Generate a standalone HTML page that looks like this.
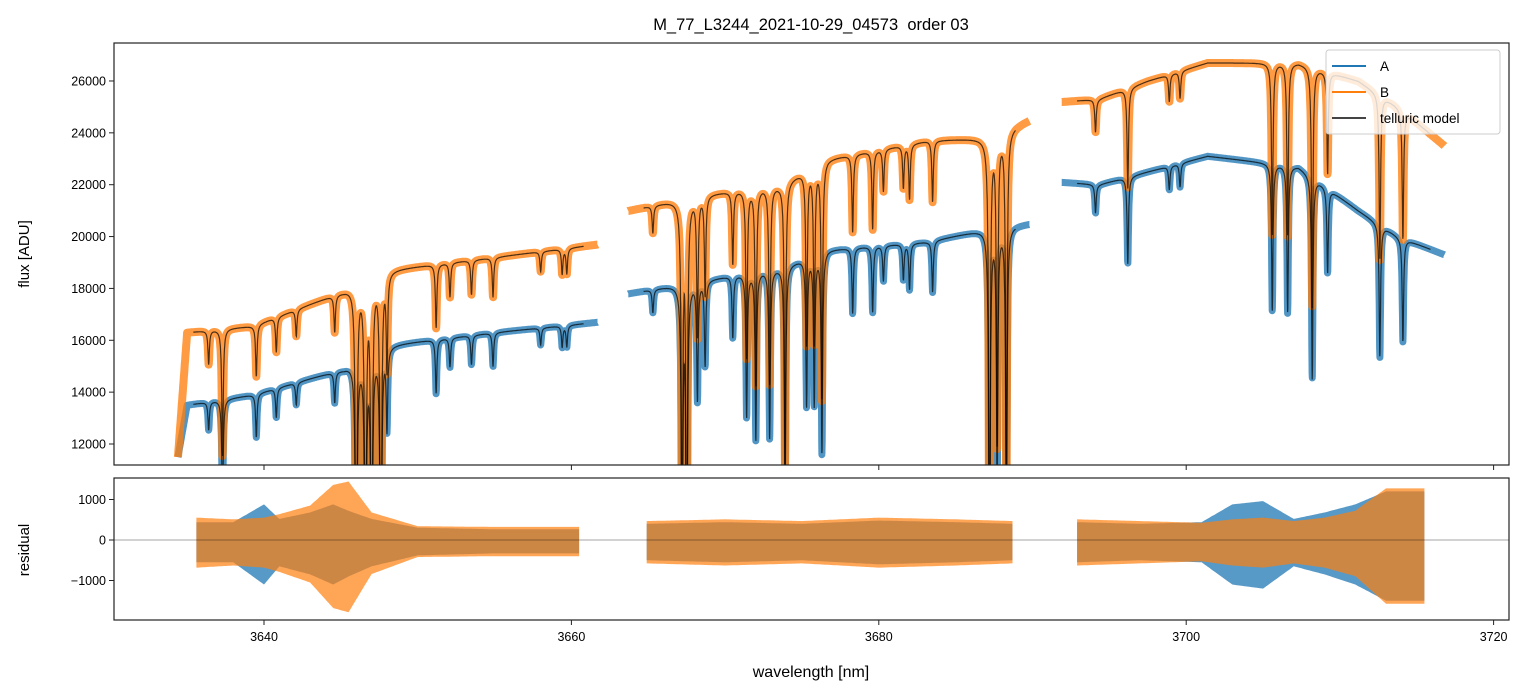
<!DOCTYPE html>
<html><head><meta charset="utf-8">
<style>
body{margin:0;background:#fff;}
svg{display:block;font-family:"Liberation Sans","DejaVu Sans",sans-serif;}
</style></head>
<body>
<svg id="c" width="1531" height="696" viewBox="0 0 1531 696">
<defs>
<clipPath id="clipTop"><rect x="114" y="43" width="1395" height="422"/></clipPath>
<clipPath id="clipBot"><rect x="114" y="478" width="1395" height="142"/></clipPath>
</defs>
<text x="811" y="30" font-size="16.5" text-anchor="middle" style="white-space:pre">M_77_L3244_2021-10-29_04573  order 03</text>
<g id="gtop" clip-path="url(#clipTop)"></g>
<g id="gbot" clip-path="url(#clipBot)"></g>
<g id="gaxes"></g>
<text x="29" y="254" font-size="15" text-anchor="middle" transform="rotate(-90 29 254)">flux [ADU]</text>
<text x="29" y="550" font-size="15" text-anchor="middle" transform="rotate(-90 29 550)">residual</text>
<text x="811" y="677" font-size="16" text-anchor="middle">wavelength [nm]</text>
<g id="legend">
<rect x="1326" y="50" width="174" height="84" rx="3" fill="#fff" fill-opacity="0.8" stroke="#ccc"/>
<line x1="1332" y1="66" x2="1366" y2="66" stroke="#1f77b4" stroke-width="2"/>
<text x="1380" y="71" font-size="13.5">A</text>
<line x1="1332" y1="92" x2="1366" y2="92" stroke="#ff7f0e" stroke-width="2"/>
<text x="1380" y="97" font-size="13.5">B</text>
<line x1="1332" y1="118" x2="1366" y2="118" stroke="#444" stroke-width="2"/>
<text x="1380" y="123" font-size="13.5">telluric model</text>
</g>
</svg>
<script>
// ---- data ----
const segments = [[3634.4,3661.7],[3663.7,3689.8],[3691.9,3716.8]];
const contWave = [3634.4,3635.0,3639.3,3645.2,3647.8,3655.0,3661.7, 3663.7,3668.3,3673.5,3676.7,3683.2,3687.1,3689.8, 3691.9,3694.3,3697.5,3701.4,3707.3,3711.2,3713.8,3716.8];
const contB   = [11500,16300,16550,17900,18700,19200,19700, 21000,21600,22000,23000,23700,23800,24500, 25200,25300,26000,26700,26700,26000,25000,23500];
const contA   = [11500,13500,13900,14900,15800,16300,16700, 17800,18300,18800,19500,19800,20300,20500, 22100,22000,22500,23100,22700,21000,20000,19300];
const lineWave = [3636.4,3637.3,3639.5,3640.8,3642.1,3644.6,3646.0,3646.6,3647.0,3647.6,3648.0,3651.2,3652.1,3653.5,3654.9,3658.0,3659.4,3659.7,
 3665.3,3667.2,3667.5,3668.2,3668.7,3670.5,3671.4,3672.0,3672.9,3673.9,3675.3,3675.8,3676.3,3678.3,3679.6,3680.3,3681.6,3682.0,3683.5,3687.2,3687.7,3688.3,
 3694.1,3696.2,3698.9,3699.6,3705.6,3706.6,3708.2,3709.2,3712.6,3714.1];
const lineDepth = [0.08,0.3,0.12,0.08,0.06,0.08,0.9,0.9,0.9,0.9,0.2,0.13,0.07,0.07,0.08,0.04,0.05,0.05,
 0.05,0.7,0.8,0.25,0.18,0.13,0.3,0.35,0.35,0.5,0.3,0.3,0.4,0.13,0.13,0.07,0.07,0.09,0.1,0.8,0.5,0.6,
 0.05,0.15,0.04,0.04,0.25,0.25,0.35,0.15,0.25,0.2];
const resSeg = [[3635.6,3660.5],[3664.9,3688.7],[3692.9,3715.5]];
const resWave = [3635.6,3638,3640,3641,3643,3644.5,3645.5,3647,3650,3655,3660.5, 3664.9,3670,3675,3680,3685,3688.7, 3692.9,3697,3701,3703,3705,3707,3709,3711,3713,3715.5];
const resAmpB = [650,600,650,750,1000,1600,1700,800,400,380,380, 550,600,550,650,600,550, 600,550,500,600,650,550,650,850,1500,1500];
const resAmpA = [550,550,1100,650,850,1100,900,650,380,330,330, 500,550,500,600,550,500, 550,500,550,1100,1200,650,850,1100,1500,1500];
const xTicks = [3640,3660,3680,3700,3720];
const yTicks = [12000,14000,16000,18000,20000,22000,24000,26000];
const rTicks = [-1000,0,1000];

// ---- axes ----
const X = w => 264 + (w-3640)*15.37;
const Y = f => 444 - (f-12000)*0.02593;
const R = r => 540 - r*0.0405;
const NS="http://www.w3.org/2000/svg";
function mk(tag,attrs,parent){const e=document.createElementNS(NS,tag);for(const k in attrs)e.setAttribute(k,attrs[k]);parent.appendChild(e);return e;}
function interp(xs,ys,x){if(x<=xs[0])return ys[0];for(let i=1;i<xs.length;i++){if(x<=xs[i]){const t=(x-xs[i-1])/(xs[i]-xs[i-1]);return ys[i-1]+t*(ys[i]-ys[i-1]);}}return ys[ys.length-1];}
function trans(w){let t=1;for(let i=0;i<lineWave.length;i++){const d=(w-lineWave[i])/0.055;t*=1-lineDepth[i]/(1+d*d);}return Math.max(t,0.02);}

const gTop=document.getElementById('gtop'), gBot=document.getElementById('gbot'), gAxes=document.getElementById('gaxes');
function seriesPath(cw,cv,seg){let p='';for(let w=seg[0];w<=seg[1];w+=0.015){const v=interp(cw,cv,w)*trans(w);p+=(p?'L':'M')+X(w).toFixed(1)+','+Y(v).toFixed(1);}return p;}
[['A',contA,'#1f77b4',7],['B',contB,'#ff7f0e',8]].forEach(([n,cv,col,sw])=>{
  segments.forEach((seg,i)=>{
    const p=mk('path',{d:seriesPath(contWave,cv,seg),fill:'none',stroke:col,'stroke-width':sw,'stroke-opacity':0.78,'stroke-linejoin':'round'},gTop);
    
    
  });
});
[contA,contB].forEach((cv,j)=>{
  segments.forEach((seg,i)=>{
    const p=mk('path',{d:seriesPath(contWave,cv,[seg[0]+1.0,seg[1]-0.9]),fill:'none',stroke:'#000','stroke-width':1.2,'stroke-opacity':0.7},gTop);
    
    
  });
});
[[resAmpA,'#1f77b4'],[resAmpB,'#ff7f0e']].forEach(([amp,col],j)=>{
  resSeg.forEach((seg,i)=>{
    let up='',dn=[];
    for(let w=seg[0];w<=seg[1];w+=0.1){const a=interp(resWave,amp,w);up+=(up?'L':'M')+X(w).toFixed(1)+','+R(a*(j?0.85:0.8)).toFixed(1);dn.push(X(w).toFixed(1)+','+R(-a*(j?1.05:1)).toFixed(1));}
    const p=mk('path',{d:up+'L'+dn.reverse().join('L')+'Z',fill:col,'fill-opacity':j?0.7:0.75},gBot);
    
    
  });
});
mk('line',{x1:114,x2:1509,y1:R(0),y2:R(0),stroke:'#000','stroke-width':0.6,'stroke-opacity':0.7},gBot);

const f1=mk('rect',{x:114,y:43,width:1395,height:422,fill:'none',stroke:'#222','stroke-width':1.2},gAxes);


const f2=mk('rect',{x:114,y:478,width:1395,height:142,fill:'none',stroke:'#222','stroke-width':1.2},gAxes);


xTicks.forEach(t=>{
  mk('line',{x1:X(t),x2:X(t),y1:465,y2:470,stroke:'#222'},gAxes);
  mk('line',{x1:X(t),x2:X(t),y1:620,y2:625,stroke:'#222'},gAxes);
  const tx=mk('text',{x:X(t),y:641,'font-size':12.5,'text-anchor':'middle'},gAxes);tx.textContent=t;
  
  
});
yTicks.forEach(t=>{
  mk('line',{x1:109,x2:114,y1:Y(t),y2:Y(t),stroke:'#222'},gAxes);
  const tx=mk('text',{x:106,y:Y(t)+4.5,'font-size':12.5,'text-anchor':'end'},gAxes);tx.textContent=t;
  
  
});
rTicks.forEach(t=>{
  mk('line',{x1:109,x2:114,y1:R(t),y2:R(t),stroke:'#222'},gAxes);
  const tx=mk('text',{x:106,y:R(t)+4.5,'font-size':12.5,'text-anchor':'end'},gAxes);tx.textContent=(t<0?'\u2212'+(-t):t);
  
  
});
document.getElementById('c').appendChild(document.getElementById('legend'));
</script>
</body></html>
